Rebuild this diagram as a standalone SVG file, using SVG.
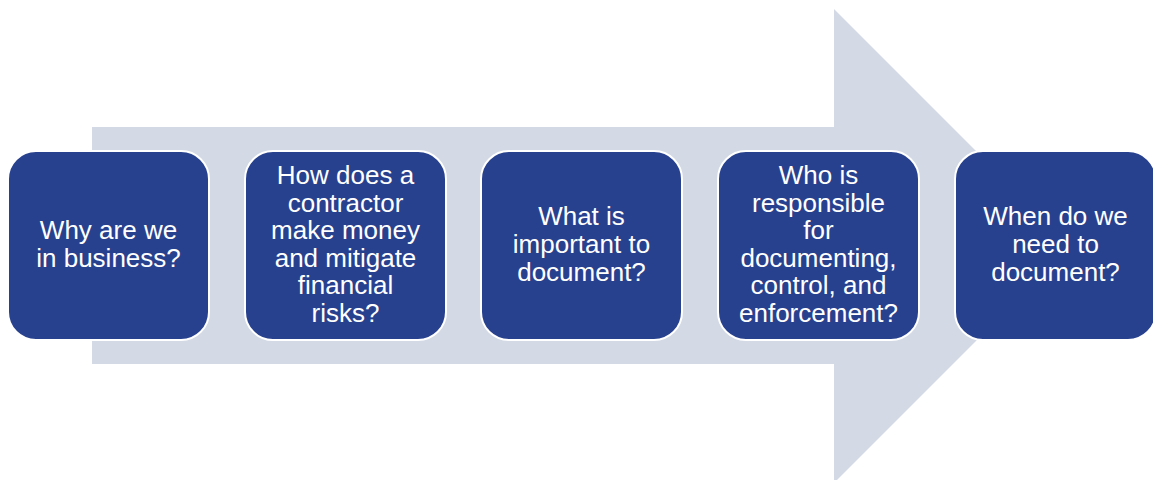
<svg xmlns="http://www.w3.org/2000/svg" width="1153" height="480" viewBox="0 0 1153 480">
<style>
.box{fill:#28418F;stroke:#FFFFFF;stroke-width:2}
.t{font-family:"Liberation Sans",Arial,sans-serif;font-size:26px;fill:#FFFFFF;text-anchor:middle}
</style>
<rect width="1153" height="480" fill="#FFFFFF"/>
<g id="arrow">
<polygon points="92,127 834,127 834,9 1071,246 834,483 834,364 92,364" fill="#D3DAE5"/>
</g>
<g id="connectors"></g>
<g id="n1">
<rect class="box" x="8" y="151" width="201" height="189" rx="28"/>
<text class="t" x="108.5"><tspan x="108.5" y="239">Why are we</tspan><tspan x="108.5" y="267">in business?</tspan></text>
</g>
<g id="n2">
<rect class="box" x="245" y="151" width="201" height="189" rx="28"/>
<text class="t"><tspan x="345.5" y="184">How does a</tspan><tspan x="345.5" y="211.6">contractor</tspan><tspan x="345.5" y="239.2">make money</tspan><tspan x="345.5" y="266.8">and mitigate</tspan><tspan x="345.5" y="294.4">financial</tspan><tspan x="345.5" y="322">risks?</tspan></text>
</g>
<g id="n3">
<rect class="box" x="481" y="151" width="201" height="189" rx="28"/>
<text class="t"><tspan x="581.5" y="225.4">What is</tspan><tspan x="581.5" y="253">important to</tspan><tspan x="581.5" y="280.6">document?</tspan></text>
</g>
<g id="n4">
<rect class="box" x="718" y="151" width="201" height="189" rx="28"/>
<text class="t"><tspan x="818.5" y="184">Who is</tspan><tspan x="818.5" y="211.6">responsible</tspan><tspan x="818.5" y="239.2">for</tspan><tspan x="818.5" y="266.8">documenting,</tspan><tspan x="818.5" y="294.4">control, and</tspan><tspan x="818.5" y="322">enforcement?</tspan></text>
</g>
<g id="n5">
<rect class="box" x="955" y="151" width="201" height="189" rx="28"/>
<text class="t"><tspan x="1055.5" y="225.4">When do we</tspan><tspan x="1055.5" y="253">need to</tspan><tspan x="1055.5" y="280.6">document?</tspan></text>
</g>
</svg>
